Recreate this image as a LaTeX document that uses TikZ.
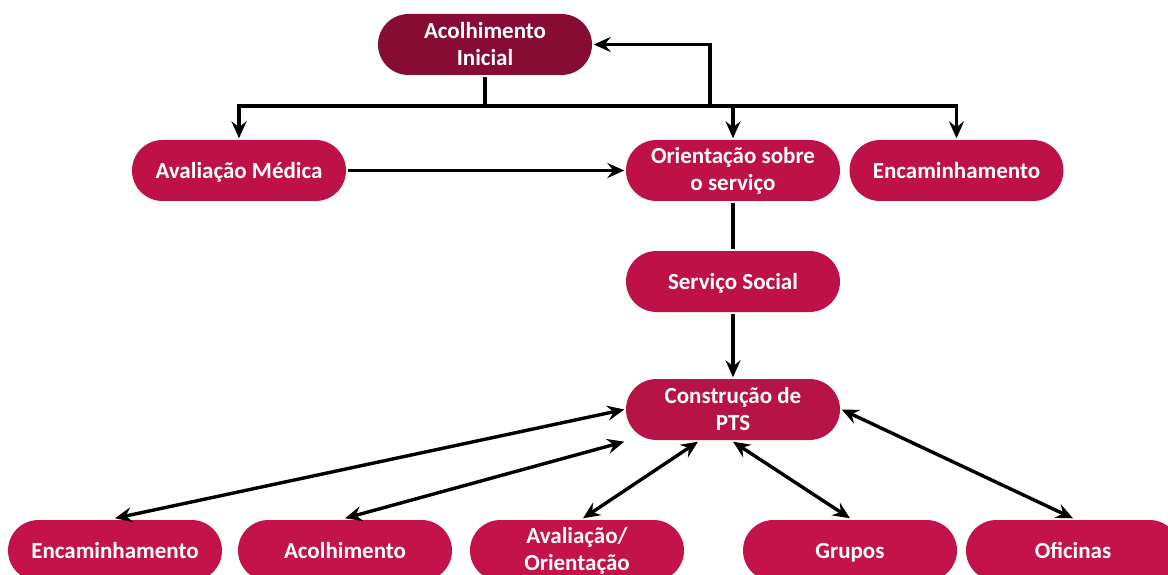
\documentclass[tikz,border=0pt]{standalone}
\usepackage{fontspec}
\setmainfont{Carlito}
\usetikzlibrary{arrows.meta}

\definecolor{topred}{RGB}{134,12,52}
\definecolor{midred}{RGB}{190,17,72}
\definecolor{ptsred}{RGB}{182,20,70}
\definecolor{lowred}{RGB}{196,18,74}

\begin{document}
\begin{tikzpicture}[x=1pt,y=-1pt,>={Stealth[length=17pt,width=15pt,inset=6pt]},line width=3.4pt]
	\tikzstyle{every node}=[shape=rectangle,rounded corners=30.5pt,minimum width=214pt,minimum height=61pt,text=white,align=center,font=\fontsize{23}{27}\selectfont\bfseries]
	\tikzstyle{oneline}=[text depth=0pt]
	\useasboundingbox (0,0) rectangle (1168,575);
	
	\node[fill=topred] (acolini) at (485,44.5)    {Acolhimento\\Inicial};
	\node[fill=midred,oneline] (avalmed) at (239,170.5)   {Avaliação Médica};
	\node[fill=midred] (orient)  at (733,170.5)   {Orientação sobre\\o serviço};
	\node[fill=midred,oneline] (encam)   at (956.5,170.5) {Encaminhamento};
	\node[fill=midred,oneline] (servsoc) [below of=orient, node distance=111pt]  {Serviço Social};
	\node[fill=ptsred] (pts)     [below of=servsoc, node distance=128pt] {Construção de\\PTS};
	
	\node[fill=lowred,oneline] (encbot)   at (115,550.5)  {Encaminhamento};
	\node[fill=lowred,oneline] (acolbot)  at (345,550.5)  {Acolhimento};
	\node[fill=lowred] (avalbot)  at (577,550.5)  {Avaliação/\\Orientação};
	\node[fill=lowred,oneline] (grupos)   at (850,550.5)  {Grupos};
	\node[fill=lowred,oneline] (oficinas) at (1073,550.5) {Oficinas};
	
	% barramento do acolhimento
	\coordinate (bus) at (485,106);
	\coordinate (back) at (710,106);
	\draw (acolini) -- (bus);
	\draw[->] (bus) -| (avalmed);
	\draw[->] (bus) -| (orient);
	\draw[->] (bus) -| (encam);
	\draw[->] (back) |- (acolini);
	
	\draw[->] (avalmed) -- (orient);
	\draw (orient) -- (servsoc);
	\draw[->] (servsoc) -- (pts);
	
	% ligacoes do PTS
	\draw[<->] (pts.west) -- (encbot.north);
	\draw[<->] (pts.south west) -- (acolbot.north);
	\draw[<->] ([xshift=-35pt]pts.south) -- ([xshift=6pt]avalbot.north);
	\draw[<->] (pts.south) -- (grupos.north);
	\draw[<->] (pts.east) -- (oficinas.north);
\end{tikzpicture}
\end{document}
